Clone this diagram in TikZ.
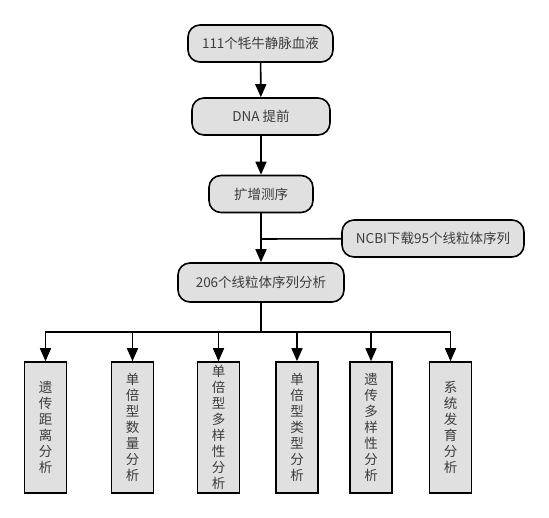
\documentclass[tikz,border=0pt]{standalone}
\usepackage{fontspec}
\setmainfont{Noto Sans CJK SC}
\usetikzlibrary{arrows.meta}
\definecolor{boxgray}{HTML}{E0E0E0}
\definecolor{txtgray}{HTML}{3C3C3C}
\begin{document}
\begin{tikzpicture}[x=1pt, y=-1pt, line width=1.6pt,
		every node/.style={draw, fill=boxgray, text=txtgray, inner sep=0pt, font=\fontsize{13.5}{16}\selectfont},
		pill/.style={rounded corners=12pt, minimum height=37pt},
		col/.style={minimum width=42pt, minimum height=131pt, align=center},
		arr/.style={-{Triangle[length=13pt,width=11pt]}}]
		\useasboundingbox (0,0) rectangle (549,518);
		\node [pill, minimum width=145pt] (s) at (260.5,43.5) {111个牦牛静脉血液};
		\node [pill, minimum width=138pt] (d) at (261,116.5) {DNA 提前};
		\node [pill, minimum width=104pt] (p) at (261,194) {扩增测序};
		\node [pill, minimum width=182pt] (n) at (433,238.5) {NCBI下载95个线粒体序列};
		\node [pill, minimum width=166pt, minimum height=39pt] (f) at (261,282.5) {206个线粒体序列分析};
		
		\node [col] (1) at (45.5,427.5) {遗\\传\\距\\离\\分\\析};
		\node [col] (2) at (132.5,427.5) {单\\倍\\型\\数\\量\\分\\析};
		\node [col] (3) at (218.5,427.5) {单\\倍\\型\\多\\样\\性\\分\\析};
		\node [col] (4) at (297,427.5) {单\\倍\\型\\类\\型\\分\\析};
		\node [col] (5) at (371,427.5) {遗\\传\\多\\样\\性\\分\\析};
		\node [col] (6) at (450.5,427.5) {系\\统\\发\\育\\分\\析};
		
		\coordinate (j) at (261,239);
		\coordinate (m) at (261,332);
		
		\draw[arr] (s) -- (d);
		\draw[arr] (d) -- (p);
		\draw[arr] (p) -- (f);
		\draw (n) -- (j);
		\draw (f) -- (m);
		\draw[arr] (m) -| (1);
		\draw[arr] (m) -| (2);
		\draw[arr] (m) -| (3);
		\draw[arr] (m) -| (4);
		\draw[arr] (m) -| (5);
		\draw[arr] (m) -| (6);
		\end{tikzpicture}
\end{document}
